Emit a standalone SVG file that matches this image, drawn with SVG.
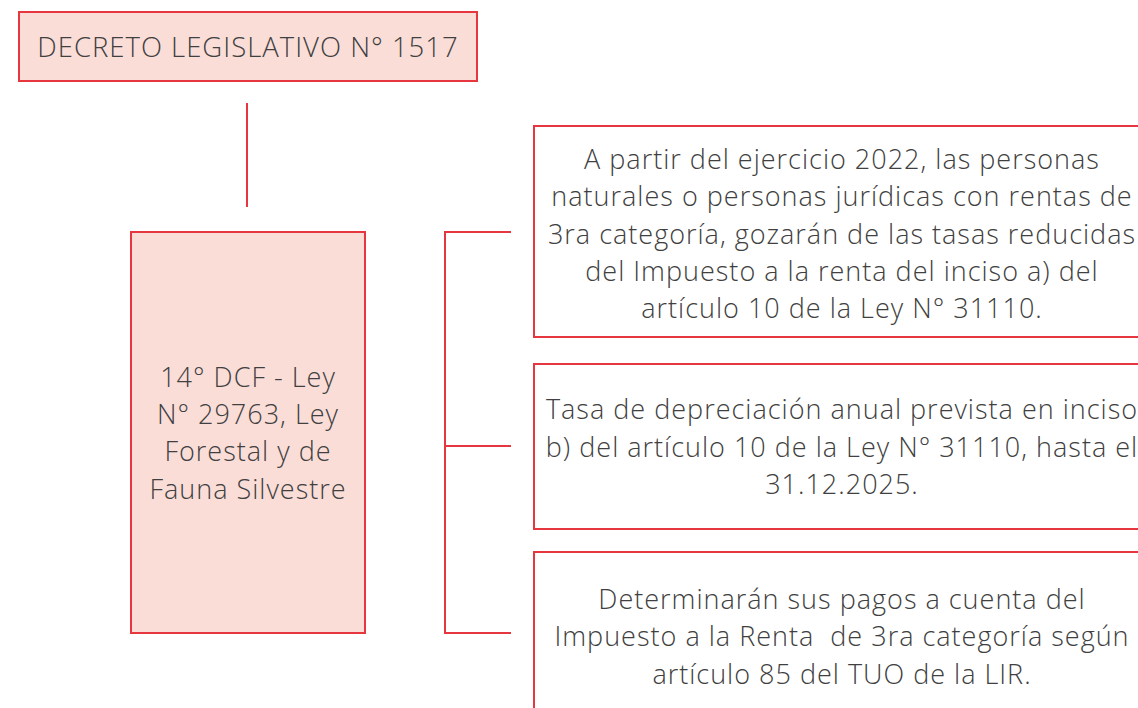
<svg xmlns="http://www.w3.org/2000/svg" width="1138" height="708" viewBox="0 0 1138 708">
<style>
.pink{fill:#FBDDD8;stroke:#E63640;stroke-width:2}
.white{fill:#FFFFFF;stroke:#E63640;stroke-width:2}
.conn{fill:none;stroke:#E63640;stroke-width:2}
text{font-family:"Open Sans","Liberation Sans",sans-serif;font-size:27px;font-weight:300;letter-spacing:1px;fill:#404040;text-anchor:middle}
.title{font-size:27.5px}
</style>
<rect width="1138" height="708" fill="#FFFFFF"/>
<g id="connectors">
<line class="conn" x1="247" y1="103" x2="247" y2="207"/>
<path class="conn" d="M511,232 H445 V633 H511"/>
<line class="conn" x1="445" y1="446" x2="511" y2="446"/>
</g>
<g id="node-decreto">
<rect class="pink" x="19" y="12" width="458" height="69"/>
<text class="title" x="248" y="57">DECRETO LEGISLATIVO N° 1517</text>
</g>
<g id="node-dcf">
<rect class="pink" x="131" y="232" width="234" height="401"/>
<text x="248" y="387">14° DCF - Ley</text>
<text x="248" y="424">N° 29763, Ley</text>
<text x="248" y="461">Forestal y de</text>
<text x="248" y="499">Fauna Silvestre</text>
</g>
<g id="node-tasas">
<rect class="white" x="534" y="126" width="620" height="211"/>
<text x="842" y="169">A partir del ejercicio 2022, las personas</text>
<text x="842" y="206">naturales o personas jurídicas con rentas de</text>
<text x="842" y="244">3ra categoría, gozarán de las tasas reducidas</text>
<text x="842" y="281">del Impuesto a la renta del inciso a) del</text>
<text x="842" y="318">artículo 10 de la Ley N° 31110.</text>
</g>
<g id="node-depreciacion">
<rect class="white" x="534" y="364" width="620" height="165"/>
<text x="842" y="419">Tasa de depreciación anual prevista en inciso</text>
<text x="842" y="457">b) del artículo 10 de la Ley N° 31110, hasta el</text>
<text x="842" y="494">31.12.2025.</text>
</g>
<g id="node-pagos">
<rect class="white" x="534" y="552" width="620" height="180"/>
<text x="842" y="609">Determinarán sus pagos a cuenta del</text>
<text x="842" y="646" xml:space="preserve">Impuesto a la Renta  de 3ra categoría según</text>
<text x="842" y="684">artículo 85 del TUO de la LIR.</text>
</g>
</svg>
